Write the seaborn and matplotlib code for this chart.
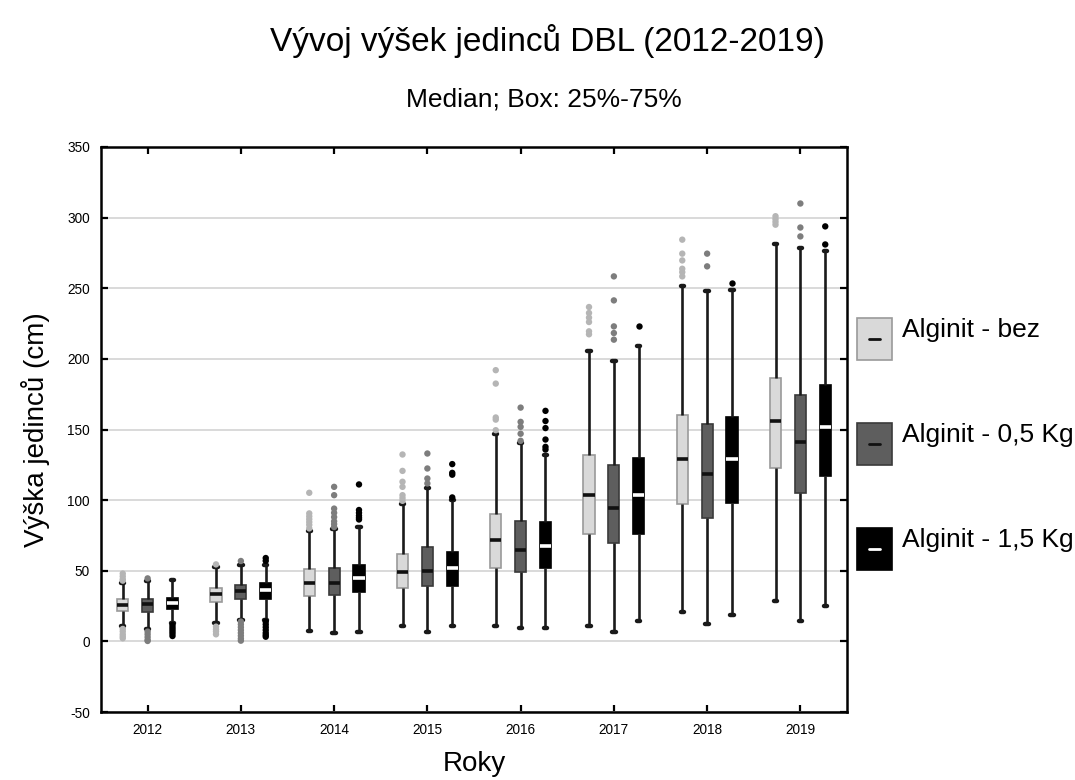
import numpy as np
import pandas as pd
import matplotlib
matplotlib.use("Agg")
import matplotlib.pyplot as plt
from matplotlib.patches import Rectangle
from matplotlib.lines import Line2D
import seaborn as sns

years = ["2012", "2013", "2014", "2015", "2016", "2017", "2018", "2019"]
groups = ["Alginit - bez", "Alginit - 0,5 Kg", "Alginit - 1,5 Kg"]

# Five-number summaries (whisker low, Q1, median, Q3, whisker high), cm
bez_low = [11.0, 13.0, 7.0, 11.0, 11.0, 11.0, 21.0, 28.8]
bez_q1 = [21.5, 27.7, 32.3, 37.5, 51.7, 75.7, 97.0, 122.4]
bez_med = [26.0, 33.3, 41.0, 49.3, 71.7, 103.5, 128.8, 156.0]
bez_q3 = [30.0, 37.5, 51.0, 61.6, 90.0, 132.3, 160.0, 186.5]
bez_high = [41.0, 53.0, 78.0, 97.0, 146.5, 205.6, 251.3, 281.5]

k05_low = [8.8, 15.0, 6.2, 6.9, 9.7, 6.9, 12.0, 14.7]
k05_q1 = [21.0, 30.0, 32.8, 39.2, 48.9, 69.8, 87.5, 104.7]
k05_med = [26.2, 35.6, 41.1, 50.0, 64.6, 94.1, 118.4, 141.2]
k05_q3 = [30.0, 40.0, 52.1, 66.8, 85.4, 125.2, 153.7, 174.7]
k05_high = [42.7, 54.0, 79.3, 108.3, 140.5, 198.5, 248.0, 278.7]

k15_low = [12.8, 15.0, 6.9, 11.0, 9.7, 14.7, 19.0, 25.3]
k15_q1 = [22.9, 29.8, 34.7, 39.2, 51.7, 75.7, 98.0, 117.0]
k15_med = [27.4, 36.4, 44.6, 51.7, 67.5, 103.5, 128.8, 151.8]
k15_q3 = [30.9, 41.0, 54.0, 63.0, 84.7, 129.9, 159.0, 181.3]
k15_high = [43.4, 54.0, 80.7, 100.0, 132.3, 208.9, 248.5, 276.3]

# Outlying individuals per year
bez_out = [
    [48, 46, 44, 43, 8.8, 7, 5, 3.5, 2.2],
    [54.5, 10.4, 8.5, 7, 5],
    [105.2, 90.6, 88.5, 86.5, 84.5, 82.5, 80],
    [132.3, 120.7, 113, 109.4, 103.5, 101.5, 99.5],
    [192, 182.5, 158.5, 157, 149.5],
    [236.7, 232.5, 229.2, 226.1, 219.5, 217.4],
    [284.4, 274.5, 269.7, 263.8, 261.4, 258.4],
    [301, 299, 297, 295],
]
k05_out = [
    [44.6, 6.9, 5, 3, 1, 0.3],
    [56.9, 14, 12, 10, 8, 6, 4, 2, 0.5],
    [109.4, 103.5, 94, 91, 88, 85, 83, 81],
    [133, 122.4, 115.3, 111.8],
    [165.5, 155.4, 151.9, 147, 142],
    [258.4, 241.4, 223, 218.3, 213.6],
    [274.5, 265.5],
    [310, 293, 286.7],
]
k15_out = [
    [11.6, 10, 8.5, 7, 5.5, 3.8],
    [59, 57, 14, 12, 10, 8, 6, 4.5, 3.3],
    [111.1, 93, 91, 89, 87.5, 86.3],
    [125.5, 119.3, 118, 101.9],
    [163.2, 156, 151, 142.9, 137.7, 135.8],
    [223],
    [254],
    [293.8, 281],
]

y_ticks = [-50, 0, 50, 100, 150, 200, 250, 300, 350]

# Styling
box_fill = ["#d9d9d9", "#5e5e5e", "#000000"]
box_edge = ["#9a9a9a", "#3a3a3a", "#000000"]
median_col = ["#111111", "#111111", "#ffffff"]
outlier_col = ["#b5b5b5", "#7d7d7d", "#000000"]

summaries = [
    (bez_low, bez_q1, bez_med, bez_q3, bez_high),
    (k05_low, k05_q1, k05_med, k05_q3, k05_high),
    (k15_low, k15_q1, k15_med, k15_q3, k15_high),
]
rows = []
for g, stats in zip(groups, summaries):
    for i, yr in enumerate(years):
        for arr in stats:
            rows.append((yr, g, arr[i]))
box_df = pd.DataFrame(rows, columns=["Rok", "Skupina", "Vyska"])

out_rows = []
for g, outs in zip(groups, [bez_out, k05_out, k15_out]):
    for i, yr in enumerate(years):
        for v in outs[i]:
            out_rows.append((yr, g, v))
out_df = pd.DataFrame(out_rows, columns=["Rok", "Skupina", "Vyska"])

sns.set_style("white")
plt.rcParams["font.family"] = ["Liberation Sans", "DejaVu Sans"]
plt.rcParams["axes.unicode_minus"] = False
plt.rcParams["text.color"] = "black"
plt.rcParams["axes.labelcolor"] = "black"
plt.rcParams["xtick.color"] = "black"
plt.rcParams["ytick.color"] = "black"

W, H = 1075, 780
fig = plt.figure(figsize=(W / 100, H / 100), dpi=100)
ax = fig.add_axes([101 / W, 1 - 712 / H, (847 - 101) / W, (712 - 147) / H])

sns.boxplot(
    data=box_df, x="Rok", y="Vyska", hue="Skupina",
    order=years, hue_order=groups, palette=box_fill,
    width=0.8, gap=0.55, whis=np.inf, fliersize=0,
    linecolor="#1a1a1a", linewidth=1.9, legend=False,
    medianprops=dict(linewidth=2.6),
    capprops=dict(linewidth=3.2),
    capwidths=0.035,
    ax=ax,
)
sns.stripplot(
    data=out_df, x="Rok", y="Vyska", hue="Skupina",
    order=years, hue_order=groups, palette=outlier_col,
    dodge=True, jitter=False, size=4.6, linewidth=0,
    legend=False, ax=ax, zorder=3,
)

conts = [c for c in ax.containers if hasattr(c, "medians")]
for c, ec, mc in zip(conts, box_edge, median_col):
    for b in c.boxes:
        b.set_edgecolor(ec)
        b.set_linewidth(1.2)
    for m in c.medians:
        m.set_color(mc)

ax.set_xlim(-0.5, 7.5)
ax.set_ylim(-50, 350)
ax.set_yticks(y_ticks)
ax.set_yticklabels([str(t) for t in y_ticks])
ax.set_axisbelow(True)
ax.yaxis.grid(True, color="#d9d9d9", linewidth=1.4)
ax.xaxis.grid(False)
for s in ax.spines.values():
    s.set_visible(True)
    s.set_color("black")
    s.set_linewidth(1.8)
ax.tick_params(direction="in", top=True, right=True, bottom=True, left=True,
               length=5, width=1.6, labelsize=9.8, colors="black", pad=8)

ax.set_xlabel("Roky", fontsize=20, labelpad=10, color="black")
ax.set_ylabel("Výška jedinců (cm)", fontsize=20, labelpad=12, color="black")

fig.text(547 / W, 1 - 41 / H, "Vývoj výšek jedinců DBL (2012-2019)",
         ha="center", va="center", fontsize=24, color="black")
fig.text(544 / W, 1 - 100 / H, "Median; Box: 25%-75%",
         ha="center", va="center", fontsize=19, color="black")

# Legend drawn beside the axes
for k, (g, fc, ec, mc) in enumerate(zip(groups, box_fill, box_edge, median_col)):
    top = 318 + k * 105
    fig.add_artist(Rectangle((857 / W, 1 - (top + 42) / H), 35 / W, 42 / H,
                             transform=fig.transFigure, facecolor=fc,
                             edgecolor=ec, linewidth=1.2))
    cy = 1 - (top + 21) / H
    fig.add_artist(Line2D([869 / W, 880 / W], [cy, cy], transform=fig.transFigure,
                          color=mc, linewidth=2.0))
    fig.text(902 / W, 1 - (top + 19) / H, g, ha="left", va="baseline",
             fontsize=19, color="black")

fig.savefig("out.png", dpi=100)
